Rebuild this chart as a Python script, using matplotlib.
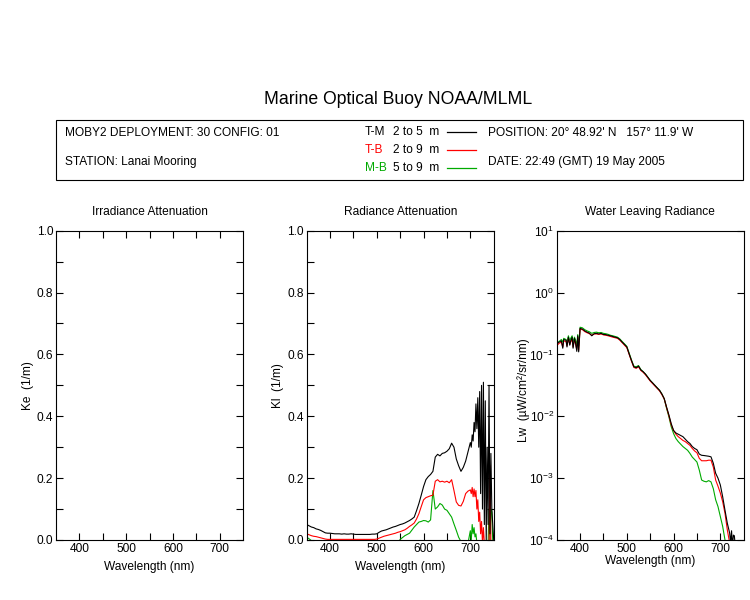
import matplotlib
matplotlib.use('Agg')
import matplotlib.pyplot as plt
from matplotlib.patches import Rectangle
from matplotlib.lines import Line2D
from matplotlib.ticker import FixedLocator, NullLocator, FormatStrFormatter, LogLocator

plt.rcParams['font.family'] = ['Liberation Sans', 'DejaVu Sans']
plt.rcParams['mathtext.fontset'] = 'custom'
plt.rcParams['mathtext.rm'] = 'Liberation Sans'
plt.rcParams['mathtext.it'] = 'Liberation Sans:italic'
plt.rcParams['mathtext.bf'] = 'Liberation Sans:bold'
plt.rcParams['axes.unicode_minus'] = False

# Data ###################################################
# radiance attenuation Kl (1/m), 5 nm up to 700, then 2 nm
wl_kl = list(range(350, 701, 5)) + list(range(702, 751, 2))

kl_tm = [0.050, 0.046, 0.042, 0.040, 0.036, 0.034, 0.031, 0.027, 0.023, 0.022,
         0.022, 0.021, 0.020, 0.020, 0.020, 0.019, 0.020, 0.019, 0.019, 0.020,
         0.019, 0.018, 0.018, 0.018, 0.018, 0.018, 0.018, 0.018, 0.019, 0.019,
         0.020, 0.025, 0.029, 0.031, 0.033, 0.036, 0.039, 0.042, 0.044, 0.047,
         0.050, 0.052, 0.055, 0.059, 0.063, 0.068, 0.074, 0.095, 0.118, 0.145,
         0.173, 0.195, 0.205, 0.212, 0.222, 0.268, 0.277, 0.272, 0.280, 0.282,
         0.287, 0.295, 0.313, 0.300, 0.262, 0.240, 0.222, 0.235, 0.255, 0.285,
         0.315,
         0.300, 0.340, 0.320, 0.380, 0.350, 0.440, 0.360, 0.460, 0.300, 0.480,
         0.150, 0.500, 0.100, 0.510, 0.050, 0.450, 0.000, 0.300, 0.050, 0.500,
         0.020, 0.280, 0.100, 0.050, 0.000]

kl_tb = [0.020, 0.017, 0.014, 0.012, 0.011, 0.009, 0.007, 0.005, 0.003, 0.002,
         0.002, 0.002, 0.002, 0.002, 0.002, 0.002, 0.002, 0.002, 0.002, 0.002,
         0.002, 0.002, 0.002, 0.002, 0.002, 0.002, 0.002, 0.002, 0.002, 0.002,
         0.003, 0.006, 0.009, 0.012, 0.014, 0.016, 0.018, 0.020, 0.022, 0.025,
         0.027, 0.030, 0.033, 0.038, 0.044, 0.049, 0.055, 0.068, 0.085, 0.108,
         0.130, 0.137, 0.140, 0.143, 0.145, 0.190, 0.195, 0.188, 0.190, 0.187,
         0.190, 0.185, 0.195, 0.160, 0.123, 0.112, 0.110, 0.125, 0.150, 0.158,
         0.162,
         0.150, 0.170, 0.140, 0.165, 0.140, 0.160, 0.100, 0.130, 0.060, 0.090,
         0.020, 0.060, -0.010, 0.040, -0.010, -0.010, -0.010, -0.010, -0.010, -0.010,
         0.240, -0.010, -0.010, -0.010, -0.010]

kl_mb = [0.009, 0.004, -0.002] + [-0.010] * 37 + \
        [0.002, 0.008, 0.014, 0.018, 0.022, 0.032, 0.042, 0.050, 0.058, 0.060,
         0.063, 0.062, 0.058, 0.065, 0.160, 0.100, 0.107, 0.118, 0.113, 0.100,
         0.096, 0.085, 0.074, 0.052, 0.031, 0.009, -0.005, -0.010, -0.010, -0.010,
         0.030,
         0.000, 0.050, 0.020, 0.040, 0.010, 0.020, -0.010] + [-0.010] * 12 + \
        [0.100, -0.010, 0.100, 0.090, -0.005, -0.010]

# water leaving radiance Lw (uW/cm2/sr/nm)
wl_lw = [350, 355, 360, 363, 365, 370, 372, 375, 378, 380, 383, 385, 388, 390, 393, 395, 397] + \
        list(range(400, 721, 5)) + [722, 724, 726, 728, 730, 732, 735]

lw_tm = [0.148, 0.158, 0.166, 0.126, 0.174, 0.170, 0.132, 0.190, 0.141, 0.166,
         0.190, 0.126, 0.182, 0.158, 0.112, 0.200, 0.110,
         0.263, 0.257, 0.240, 0.229, 0.221, 0.200, 0.216, 0.219, 0.214, 0.219,
         0.210, 0.209, 0.204, 0.200, 0.195, 0.190, 0.186, 0.174, 0.158, 0.145,
         0.132, 0.102, 0.0794, 0.0631, 0.0610, 0.0646, 0.0562, 0.0525, 0.0479, 0.0427,
         0.0380, 0.0347, 0.0316, 0.0288, 0.0263, 0.0229, 0.0193, 0.0141, 0.0105, 0.00759,
         0.00589, 0.00537, 0.00513, 0.00490, 0.00468, 0.00427, 0.00389, 0.00363, 0.00324, 0.00302,
         0.00288, 0.00245, 0.00234, 0.00232, 0.00229, 0.00226, 0.00221, 0.00174, 0.00120, 0.00100,
         0.000776, 0.000501, 0.000302, 0.000186, 0.000129,
         8.9e-5, 1.41e-4, 7.9e-5, 1.2e-4, 1.17e-4, 7.9e-5, 5e-5]

lw_tb = [0.138, 0.151, 0.158, 0.132, 0.166, 0.162, 0.138, 0.182, 0.145, 0.158,
         0.178, 0.132, 0.174, 0.151, 0.120, 0.190, 0.117,
         0.257, 0.251, 0.234, 0.224, 0.216, 0.204, 0.214, 0.214, 0.211, 0.214,
         0.207, 0.204, 0.200, 0.195, 0.190, 0.186, 0.182, 0.170, 0.155, 0.141,
         0.129, 0.100, 0.0776, 0.0617, 0.0596, 0.0631, 0.0550, 0.0513, 0.0468, 0.0417,
         0.0372, 0.0339, 0.0309, 0.0282, 0.0257, 0.0224, 0.0191, 0.0138, 0.0102, 0.00724,
         0.00589, 0.00513, 0.00468, 0.00437, 0.00407, 0.00389, 0.00363, 0.00339, 0.00302, 0.00275,
         0.00257, 0.00209, 0.00191, 0.00191, 0.00191, 0.00195, 0.00195, 0.00151, 0.000933, 0.000741,
         0.000575, 0.000417, 0.000269, 0.000145, 0.0000891,
         6.3e-5, 5e-5, 5e-5, 5e-5, 5e-5, 5e-5, 5e-5]

lw_mb = [0.151, 0.162, 0.174, 0.158, 0.182, 0.174, 0.158, 0.200, 0.166, 0.182,
         0.200, 0.158, 0.190, 0.174, 0.141, 0.209, 0.138,
         0.275, 0.269, 0.251, 0.240, 0.232, 0.219, 0.226, 0.229, 0.224, 0.226,
         0.219, 0.216, 0.211, 0.204, 0.200, 0.195, 0.190, 0.178, 0.162, 0.148,
         0.135, 0.105, 0.0813, 0.0646, 0.0631, 0.0661, 0.0569, 0.0525, 0.0479, 0.0427,
         0.0380, 0.0347, 0.0316, 0.0288, 0.0263, 0.0229, 0.0191, 0.0135, 0.00977, 0.00676,
         0.00525, 0.00437, 0.00389, 0.00355, 0.00324, 0.00302, 0.00282, 0.00251, 0.00219, 0.00200,
         0.00182, 0.00135, 0.000933, 0.000891, 0.000871, 0.000912, 0.000871, 0.000676, 0.000447, 0.000347,
         0.000240, 0.000166, 0.000100, 0.000063, 0.00005,
         5e-5, 5e-5, 5e-5, 5e-5, 5e-5, 5e-5, 5e-5]

series = ['T-M', 'T-B', 'M-B']
depths = ['2 to 5  m', '2 to 9  m', '5 to 9  m']
colors = ['black', '#ff0000', '#00aa00']

# Figure #################################################
W, H = 750, 600
fig = plt.figure(figsize=(W / 100, H / 100), dpi=100)

def fx(px):
    return px / W

def fy(py):
    return 1 - py / H

FS = 8.6

# header
fig.text(fx(398), fy(100), 'Marine Optical Buoy NOAA/MLML', ha='center', va='center', fontsize=12.7)
fig.add_artist(Rectangle((fx(56), fy(180)), (743 - 56) / W, 60 / H, transform=fig.transFigure,
                         fill=False, ec='black', lw=0.8))
fig.text(fx(65), fy(133), 'MOBY2 DEPLOYMENT: 30 CONFIG: 01', va='center', fontsize=FS)
fig.text(fx(65), fy(162), 'STATION: Lanai Mooring', va='center', fontsize=FS)
fig.text(fx(488), fy(133), "POSITION: 20° 48.92' N   157° 11.9' W", va='center', fontsize=FS)
fig.text(fx(488), fy(162), 'DATE: 22:49 (GMT) 19 May 2005', va='center', fontsize=FS)
for i, (s, d, c) in enumerate(zip(series, depths, colors)):
    yy = 132 + i * 18
    fig.text(fx(365), fy(yy), s, color=c, va='center', fontsize=FS)
    fig.text(fx(393), fy(yy), d, va='center', fontsize=FS)
    fig.add_artist(Line2D([fx(447), fx(476)], [fy(yy), fy(yy)], transform=fig.transFigure, color=c, lw=0.9))

# panels
lefts = [56, 306.7, 556.7]
axes = [fig.add_axes([fx(l), fy(540), 187 / W, 309.3 / H]) for l in lefts]

def style(ax, title, ylabel, log=False):
    ax.set_xlim(350, 750)
    ax.xaxis.set_major_locator(FixedLocator([400, 500, 600, 700]))
    ax.xaxis.set_minor_locator(FixedLocator([450, 550, 650]))
    if log:
        ax.set_yscale('log')
        ax.set_ylim(1e-4, 10)
        ax.yaxis.set_major_locator(LogLocator(base=10, numticks=10))
        ax.yaxis.set_minor_locator(NullLocator())
    else:
        ax.set_ylim(0, 1)
        ax.yaxis.set_major_locator(FixedLocator([0, 0.2, 0.4, 0.6, 0.8, 1.0]))
        ax.yaxis.set_minor_locator(FixedLocator([0.1, 0.3, 0.5, 0.7, 0.9]))
        ax.yaxis.set_major_formatter(FormatStrFormatter('%.1f'))
    ax.tick_params(which='both', direction='in', length=5, width=0.8, top=not log, right=True,
                   labelsize=FS, pad=2)
    for sp in ax.spines.values():
        sp.set_linewidth(0.8)
    ax.text(0.5, 1.061, title, transform=ax.transAxes, ha='center', va='center', fontsize=FS)
    ax.set_ylabel(ylabel, fontsize=FS)
    ax.set_xlabel('Wavelength (nm)', fontsize=FS)
    ax.yaxis.label.set_va('center')
    ax.xaxis.label.set_va('center')

style(axes[0], 'Irradiance Attenuation', 'Ke  (1/m)')
axes[0].yaxis.set_label_coords(-0.15, 0.5)
axes[0].xaxis.set_label_coords(0.5, -0.087)

ax = axes[1]
style(ax, 'Radiance Attenuation', 'Kl  (1/m)')
for vals, c in zip([kl_mb, kl_tb, kl_tm], colors[::-1]):
    ax.plot(wl_kl, vals, color=c, lw=0.8)
ax.yaxis.set_label_coords(-0.152, 0.5)
ax.xaxis.set_label_coords(0.5, -0.087)

ax = axes[2]
style(ax, 'Water Leaving Radiance', 'Lw  (µW/cm²/sr/nm)', log=True)
for vals, c in zip([lw_mb, lw_tb, lw_tm], colors[::-1]):
    ax.plot(wl_lw, vals, color=c, lw=0.8)
ax.yaxis.set_label_coords(-0.175, 0.485)
ax.xaxis.set_label_coords(0.5, -0.068)

fig.savefig('out.png', dpi=100)
